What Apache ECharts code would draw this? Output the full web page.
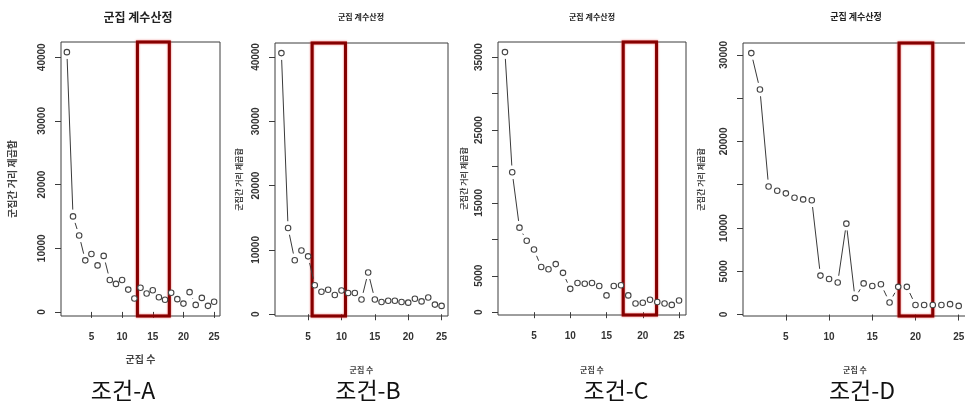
<!DOCTYPE html>
<html>
<head>
<meta charset="utf-8">
<script src="https://cdn.jsdelivr.net/npm/echarts@6/dist/echarts.min.js"></script>
<style>
  html, body { margin: 0; padding: 0; background: #fff; }
  #chart { width: 965px; height: 412px; }
</style>
</head>
<body>
<div id="chart"></div>
<script>
// 군집 수 (x)
const clusters = [1, 2, 3, 4, 5, 6, 7, 8, 9, 10, 11, 12, 13, 14, 15, 16, 17, 18, 19, 20, 21, 22, 23, 24, 25]

// 군집간 거리 제곱합 (y)
const sseA = [40800, 15000, 12000, 8100, 9100, 7300, 8800, 5000, 4400, 5000, 3500, 2100, 3800,
  2900, 3400, 2300, 1900, 3000, 2000, 1300, 3100, 1100, 2200, 950, 1600]
const sseB = [40600, 13400, 8400, 9900, 9000, 4500, 3500, 3800, 3000, 3700, 3300, 3300, 2300,
  6500, 2300, 1900, 2100, 2100, 1900, 1800, 2400, 2000, 2600, 1500, 1300]
const sseC = [35700, 19200, 11600, 9800, 8600, 6200, 5900, 6600, 5400, 3200, 4000, 3900, 4000,
  3600, 2300, 3600, 3700, 2300, 1200, 1300, 1700, 1400, 1200, 1000, 1600]
const sseD = [30200, 26000, 14800, 14300, 14000, 13500, 13300, 13200, 4500, 4100, 3700, 10500, 1900,
  3600, 3300, 3500, 1400, 3200, 3200, 1100, 1100, 1100, 1100, 1200, 1000]

// red highlight ranges on the x axis
const boxA = [12.5, 17.7]
const boxB = [5.6, 10.6]
const boxC = [17.3, 21.9]
const boxD = [18.1, 22.0]

// tick labels
const xTicks = [5, 10, 15, 20, 25]
const yTicks40k = [0, 10000, 20000, 30000, 40000]
const yTicksC = [0, 5000, 10000, 15000, 20000, 25000, 30000, 35000]
const yLabelsC = [0, 5000, 15000, 25000, 35000]
const yTicksD = [0, 5000, 10000, 15000, 20000, 25000, 30000]
const yLabelsD = [0, 5000, 10000, 20000, 30000]

const panelTitle = '군집 계수산정'
const xName = '군집 수'
const yName = '군집간 거리 제곱합'
const captions = ['조건-A', '조건-B', '조건-C', '조건-D']

const panels = [
  { data: sseA, box: boxA, yTicks: yTicks40k, yLabels: yTicks40k, grid: { left: 61, right: 745, top: 42, height: 274 },
    titleX: 138, titleSize: 12, nameSize: 10, xGap: 38, yGap: 44, capX: 123 },
  { data: sseB, box: boxB, yTicks: yTicks40k, yLabels: yTicks40k, grid: { left: 275, right: 517, top: 43, height: 273 },
    titleX: 361, titleSize: 8, nameSize: 8, xGap: 50, yGap: 32, capX: 368 },
  { data: sseC, box: boxC, yTicks: yTicksC, yLabels: yLabelsC, grid: { left: 498, right: 279, top: 42, height: 273 },
    titleX: 592, titleSize: 8, nameSize: 8, xGap: 51, yGap: 30, capX: 616 },
  { data: sseD, box: boxD, yTicks: yTicksD, yLabels: yLabelsD, grid: { left: 743, right: -2, top: 43, height: 273 },
    titleX: 856, titleSize: 9, nameSize: 8, xGap: 50, yGap: 38, capX: 862 }
]

const GAP = 6.8  // R type="b" style gap around each point

function segmentItem(params, api) {
  const p0 = api.coord([api.value(0), api.value(1)])
  const p1 = api.coord([api.value(2), api.value(3)])
  const dx = p1[0] - p0[0], dy = p1[1] - p0[1]
  const len = Math.hypot(dx, dy)
  if (len <= 2 * GAP) return null
  const ux = dx / len, uy = dy / len
  return {
    type: 'line',
    shape: { x1: p0[0] + ux * GAP, y1: p0[1] + uy * GAP, x2: p1[0] - ux * GAP, y2: p1[1] - uy * GAP },
    style: { stroke: '#3a3a3a', lineWidth: 1 }
  }
}

const grid = [], xAxis = [], yAxis = [], series = [], title = []

panels.forEach((p, i) => {
  const lo = Math.min(...p.data), hi = Math.max(...p.data)
  const pad = (hi - lo) * 0.04
  grid.push(Object.assign({ show: true, borderColor: '#3c3c3c', borderWidth: 1, outerBoundsMode: 'none', containLabel: false }, p.grid))
  xAxis.push({
    type: 'value', gridIndex: i, min: 0.04, max: 25.96,
    name: xName, nameLocation: 'middle', nameGap: p.xGap,
    nameTextStyle: { fontFamily: 'Noto Sans CJK KR', fontSize: p.nameSize, fontWeight: 'bold', color: '#444' },
    axisLine: { show: false },
    axisTick: { show: true, inside: false, length: 6, customValues: xTicks, lineStyle: { color: '#3c3c3c' } },
    axisLabel: { customValues: xTicks, margin: 16, fontSize: 10, fontWeight: 'bold', color: '#333', fontFamily: 'Liberation Sans' },
    splitLine: { show: false }
  })
  yAxis.push({
    type: 'value', gridIndex: i, min: lo - pad, max: hi + pad,
    name: yName, nameLocation: 'middle', nameGap: p.yGap, nameRotate: 90,
    nameTextStyle: { fontFamily: 'Noto Sans CJK KR', fontSize: p.nameSize, fontWeight: 'bold', color: '#444' },
    axisLine: { show: false },
    axisTick: { show: true, inside: false, length: 6, customValues: p.yTicks, lineStyle: { color: '#3c3c3c' } },
    axisLabel: { customValues: p.yLabels, rotate: 90, margin: 14, fontSize: 10, fontWeight: 'bold', color: '#333',
      fontFamily: 'Liberation Sans', formatter: v => String(v) },
    splitLine: { show: false }
  })
  series.push({
    type: 'custom', xAxisIndex: i, yAxisIndex: i, silent: true,
    renderItem: segmentItem,
    encode: { x: [0, 2], y: [1, 3] },
    data: clusters.slice(0, -1).map((k, j) => [k, p.data[j], clusters[j + 1], p.data[j + 1]])
  })
  series.push({
    type: 'scatter', xAxisIndex: i, yAxisIndex: i, silent: true,
    symbol: 'circle', symbolSize: 5.5,
    itemStyle: { color: '#fff', borderColor: '#444', borderWidth: 1.1, opacity: 1 },
    data: clusters.map((k, j) => [k, p.data[j]]),
    markArea: {
      silent: true,
      itemStyle: { color: 'rgba(0,0,0,0)', borderColor: '#850000', borderWidth: 3, shadowColor: 'rgba(235,60,60,0.9)', shadowBlur: 2 },
      data: [[{ xAxis: p.box[0] }, { xAxis: p.box[1] }]]
    },
    z: 3
  })
  title.push({
    text: panelTitle, left: p.titleX, top: 17, textAlign: 'center', textVerticalAlign: 'middle', padding: 0,
    textStyle: { fontFamily: 'Noto Sans CJK KR', fontSize: p.titleSize, fontWeight: 'bold', color: '#222' }
  })
  title.push({
    text: captions[i], left: p.capX, top: 390, textAlign: 'center', textVerticalAlign: 'middle', padding: 0,
    textStyle: { fontFamily: 'Noto Sans CJK KR', fontSize: 23, fontWeight: 'normal', color: '#111' }
  })
})

const chart = echarts.init(document.getElementById('chart'), null, { renderer: 'canvas' })
chart.setOption({
  animation: false,
  backgroundColor: '#fff',
  title: title,
  grid: grid,
  xAxis: xAxis,
  yAxis: yAxis,
  series: series
})
window.addEventListener('resize', chart.resize)
</script>
</body>
</html>
